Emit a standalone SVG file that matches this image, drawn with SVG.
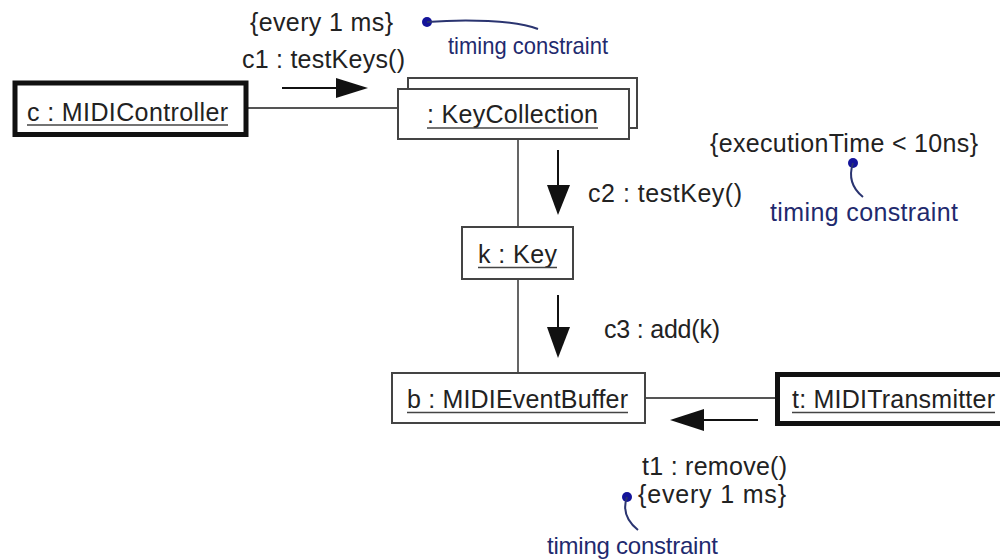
<svg xmlns="http://www.w3.org/2000/svg" width="1000" height="559" viewBox="0 0 1000 559">
<style>
.t{font-family:"Liberation Sans",Arial,sans-serif;font-size:25px;fill:#222}
.b{font-family:"Liberation Sans",Arial,sans-serif;fill:#1f2a6e}
.box{fill:#fff;stroke:#444;stroke-width:2}
.act{fill:#fff;stroke:#111;stroke-width:5}
.u{stroke:#444;stroke-width:1.6}
.ln{stroke:#555;stroke-width:1.8;fill:none}
.ar{stroke:#111;stroke-width:2;fill:none}
.cb{stroke:#2a3470;stroke-width:2;fill:none}
.dot{fill:#14149a}
</style>
<rect width="1000" height="559" fill="#fff"/>
<g id="connectors">
<line class="ln" x1="248" y1="108" x2="398" y2="108"/>
<line class="ln" x1="518" y1="139" x2="518" y2="227"/>
<line class="ln" x1="518" y1="279" x2="518" y2="373"/>
<line class="ln" x1="645" y1="398" x2="775" y2="398"/>
</g>
<g id="messages">
<line class="ar" x1="282" y1="88" x2="340" y2="88"/>
<polygon points="336,78 368,88 336,98" fill="#111"/>
<text class="t" x="242" y="68" textLength="163">c1 : testKeys()</text>
<text class="t" x="250" y="31" textLength="143">{every 1 ms}</text>
<line class="ar" x1="558" y1="150" x2="558" y2="188"/>
<polygon points="547,185 570,185 558,215" fill="#111"/>
<text class="t" x="588" y="202" textLength="154">c2 : testKey()</text>
<line class="ar" x1="558" y1="295" x2="558" y2="330"/>
<polygon points="547,327 570,327 558,358" fill="#111"/>
<text class="t" x="604" y="338" textLength="116">c3 : add(k)</text>
<line class="ar" x1="758" y1="420" x2="700" y2="420"/>
<polygon points="704,409 704,431 670,420" fill="#111"/>
<text class="t" x="642" y="475" textLength="145">t1 : remove()</text>
<text class="t" x="638" y="503" textLength="148">{every 1 ms}</text>
<text class="t" x="710" y="152" textLength="268">{executionTime &lt; 10ns}</text>
</g>
<g id="constraints">
<circle class="dot" cx="427" cy="22" r="5"/>
<path class="cb" d="M427,22 C465,19 515,20 538,29"/>
<text class="b" x="448" y="54" font-size="24" textLength="160" lengthAdjust="spacingAndGlyphs">timing constraint</text>
<circle class="dot" cx="853" cy="163" r="5"/>
<path class="cb" d="M853,163 C848,178 853,189 863,197"/>
<text class="b" x="770" y="221" font-size="25" textLength="188">timing constraint</text>
<circle class="dot" cx="627" cy="497" r="5"/>
<path class="cb" d="M627,497 C622,511 628,522 638,530"/>
<text class="b" x="547" y="554" font-size="24" textLength="171">timing constraint</text>
</g>
<g id="midiController">
<rect class="act" x="15" y="83" width="231" height="51.5"/>
<text class="t" x="27" y="121" textLength="201">c : MIDIController</text>
<line class="u" x1="27" y1="125" x2="228" y2="125"/>
</g>
<g id="keyCollection">
<rect class="box" x="408" y="78" width="229" height="50"/>
<rect class="box" x="398" y="89" width="231" height="50"/>
<text class="t" x="427" y="123" textLength="171">: KeyCollection</text>
<line class="u" x1="427" y1="128" x2="598" y2="128"/>
</g>
<g id="key">
<rect class="box" x="462" y="227" width="111" height="52"/>
<text class="t" x="478" y="263" textLength="79">k : Key</text>
<line class="u" x1="478" y1="267.5" x2="557" y2="267.5"/>
</g>
<g id="eventBuffer">
<rect class="box" x="392" y="373" width="253" height="50"/>
<text class="t" x="407" y="408" textLength="221">b : MIDIEventBuffer</text>
<line class="u" x1="407" y1="412.5" x2="628" y2="412.5"/>
</g>
<g id="transmitter">
<rect class="act" x="777.5" y="374.5" width="230" height="49"/>
<text class="t" x="792" y="408" textLength="203">t: MIDITransmitter</text>
<line class="u" x1="792" y1="412.5" x2="995" y2="412.5"/>
</g>
</svg>
